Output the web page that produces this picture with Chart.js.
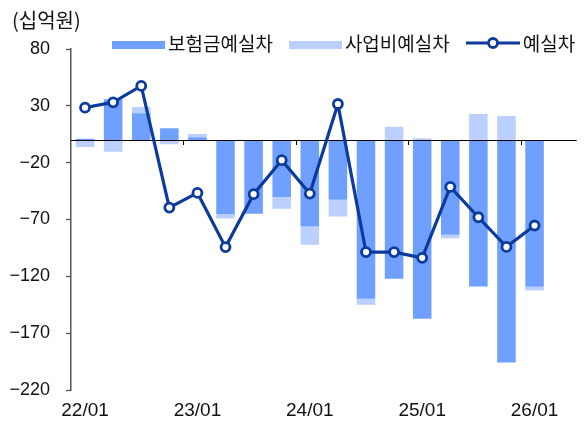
<!DOCTYPE html>
<html><head><meta charset="utf-8">
<script src="https://cdn.jsdelivr.net/npm/chart.js@4/dist/chart.umd.min.js"></script>
<style>
html,body{margin:0;padding:0;background:#fff;}
#wrap{position:relative;width:584px;height:423px;}
#unit{position:absolute;left:12px;top:8px;font-family:'Noto Sans CJK KR',sans-serif;font-size:20px;line-height:24px;color:#111;}
#legend{position:absolute;left:112px;top:31px;height:24px;display:flex;align-items:center;font-family:'Noto Sans CJK KR',sans-serif;font-size:19px;line-height:24px;color:#111;white-space:nowrap}
.item{display:flex;align-items:center;margin-right:16px}
.sym{margin-right:3px;display:block}
</style></head><body>
<div id="wrap"><canvas id="c" width="584" height="423"></canvas><div id="unit">(십억원)</div><div id="legend"></div></div>
<script>
// ---- data ----
const categories = ['22/01','22/04','22/07','22/10','23/01','23/04','23/07','23/10','24/01','24/04','24/07','24/10','25/01','25/04','25/07','25/10','26/01','26/04'];
const claimsGap  = [1, 35.8, 23.5, 10.3, 2.4, -65.3, -65, -50.1, -76.2, -52.7, -139.7, -122.2, -157.4, -83.5, -129, -195.8, -129.2, null]; // 보험금예실차
const expenseGap = [-6.2, -10.3, 5.5, -3.8, 2.9, -3.9, 0, -10.5, -16.1, -14.7, -5.3, 11.7, 1.5, -2.9, 22.9, 21.1, -3.3, null];          // 사업비예실차
const totalGap   = [28.4, 33.1, 47.5, -59.5, -46.6, -94.3, -47.7, -17.8, -47.2, 31.6, -98.7, -98.7, -103.7, -41.3, -68, -94.1, -75.3, null]; // 예실차
const seriesNames = ['보험금예실차', '사업비예실차', '예실차'];
const xTickLabels = ['22/01', '23/01', '24/01', '25/01', '26/01'];
const yMin = -220, yMax = 80, yStep = 50;

// ---- style ----
const DARK = '#70a0ff', LIGHT = '#bbd0ff', NAVY = '#0b3b9c';
const NARROW = "'Liberation Sans Narrow','Arial Narrow','Liberation Sans',sans-serif";

const zeroLine = {
  id: 'zeroLine',
  beforeDatasetDraw(chart, args) {
    if (args.index !== 2) return;
    const {ctx, chartArea, scales: {x, y}} = chart;
    const y0 = Math.round(y.getPixelForValue(0)) + 0.5;
    ctx.save();
    ctx.strokeStyle = '#000';
    ctx.lineWidth = 1.2;
    ctx.beginPath(); ctx.moveTo(chartArea.left, y0); ctx.lineTo(chartArea.right, y0); ctx.stroke();
    ctx.lineWidth = 1;
    categories.forEach((c, i) => {
      if (i > 0 && xTickLabels.includes(c)) {
        const px = Math.round((x.getPixelForValue(i - 1) + x.getPixelForValue(i)) / 2) + 0.5;
        ctx.beginPath(); ctx.moveTo(px, y0); ctx.lineTo(px, y0 + 4.5); ctx.stroke();
      }
    });
    ctx.restore();
  }
};

const chart = new Chart(document.getElementById('c'), {
  data: {
    labels: categories,
    datasets: [
      {type: 'bar', label: seriesNames[0], data: claimsGap, backgroundColor: DARK, stack: 'bars', order: 1,
       barPercentage: 0.66, categoryPercentage: 1},
      {type: 'bar', label: seriesNames[1], data: expenseGap, backgroundColor: LIGHT, stack: 'bars', order: 2,
       barPercentage: 0.66, categoryPercentage: 1},
      {type: 'line', label: seriesNames[2], data: totalGap, stack: 'line', order: 0,
       borderColor: NAVY, borderWidth: 3.2, tension: 0,
       pointRadius: 4.5, pointBorderWidth: 2.8, pointBackgroundColor: '#fff', pointBorderColor: NAVY}
    ]
  },
  options: {
    responsive: false,
    animation: false,
    layout: {padding: {top: 49, left: 0, right: 0, bottom: 0}},
    plugins: {legend: {display: false}, tooltip: {enabled: false}},
    scales: {
      x: {
        stacked: true, offset: true,
        grid: {display: false, drawTicks: false},
        border: {display: false},
        ticks: {autoSkip: false, maxRotation: 0, padding: 9, color: '#111',
                font: {family: NARROW, size: 19},
                callback(v, i) { const l = categories[i]; return xTickLabels.includes(l) ? l : ''; }},
        afterFit(s) { s.height = 33; }
      },
      y: {
        stacked: true, min: yMin, max: yMax,
        ticks: {stepSize: yStep, padding: 16, color: '#111', font: {family: NARROW, size: 18},
                callback: v => String(v).replace('-', '\u2212')},
        grid: {drawOnChartArea: false, tickLength: 5, tickColor: '#555', tickWidth: 1.3},
        border: {color: '#555', width: 1.5},
        afterFit(s) { s.width = 71; }
      }
    }
  },
  plugins: [zeroLine]
});

// ---- HTML legend built from the chart's datasets ----
const leg = document.getElementById('legend');
chart.data.datasets.forEach(ds => {
  const item = document.createElement('div'); item.className = 'item';
  let sym;
  if (ds.type === 'bar') {
    sym = document.createElement('div'); sym.className = 'sym';
    sym.style.cssText += 'width:53px;height:8px;margin-top:3px;background:' + ds.backgroundColor;
  } else {
    sym = document.createElementNS('http://www.w3.org/2000/svg', 'svg');
    sym.setAttribute('class', 'sym'); sym.setAttribute('width', '54'); sym.setAttribute('height', '14');
    sym.innerHTML = '<line x1="0" y1="7" x2="54" y2="7" stroke="' + NAVY + '" stroke-width="3.2"/>' +
      '<circle cx="27" cy="7" r="4.5" fill="#fff" stroke="' + NAVY + '" stroke-width="2.8"/>';
  }
  const t = document.createElement('span'); t.textContent = ds.label;
  item.appendChild(sym); item.appendChild(t); leg.appendChild(item);
});
</script>
</body></html>
